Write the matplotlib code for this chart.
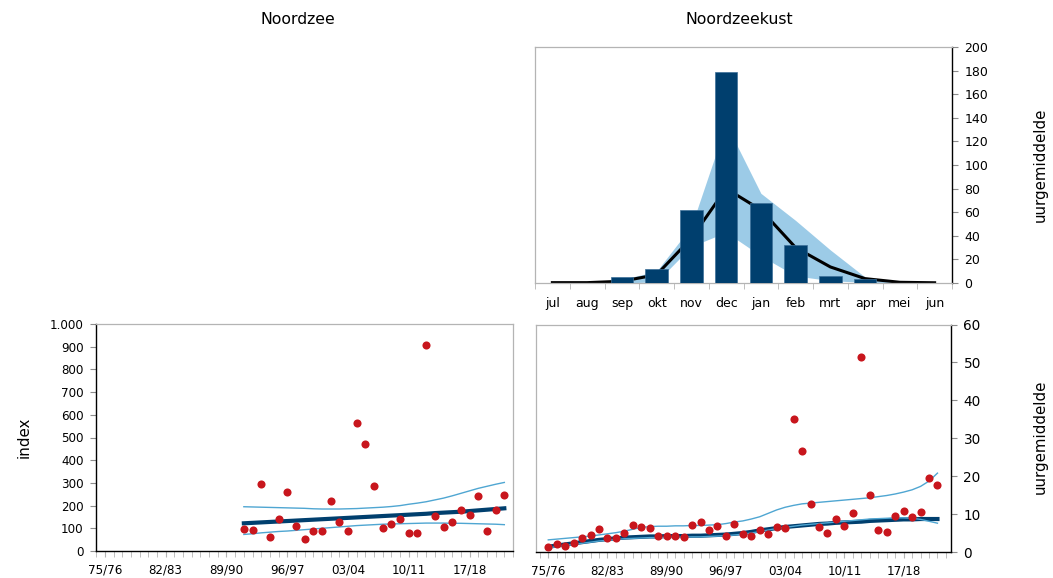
import matplotlib
matplotlib.use('Agg')
import matplotlib.pyplot as plt
import numpy as np

plt.rcParams['font.family'] = ['DejaVu Sans']

# ---------------- data ----------------
months = ['jul', 'aug', 'sep', 'okt', 'nov', 'dec', 'jan', 'feb', 'mrt', 'apr', 'mei', 'jun']
month_bars = [0, 0, 5, 12, 61.5, 178.5, 67.5, 31.8, 6.2, 3.2, 0, 0]
month_mean = [0.3, 0.3, 1.5, 7, 38, 80, 62, 30, 13.6, 3.7, 0.6, 0.2]
month_upper = [0, 0, 3, 10, 48, 135, 76, 53, 28, 5, 0.3, 0]
month_lower = [0, 0, 0, 1, 31, 43, 23, 6, 2, 0.5, 0, 0]

n_seasons = 47  # 75/76 .. 21/22
seasons = [f"{(75 + i) % 100:02d}/{(76 + i) % 100:02d}" for i in range(n_seasons)]
season_ticklabels = ['75/76', '82/83', '89/90', '96/97', '03/04', '10/11', '17/18']

# Noordzee (index), seasons 91/92 .. 21/22
nz_first = '91/92'
nz_index = [97, 91, 294, 60, 141, 261, 110, 51, 88, 88, 222, 126, 87, 565, 471,
            285, 100, 119, 141, 78, 78, 907, 154, 104, 126, 181, 159, 242, 88, 179, 248]
nz_trend = [122, 124, 126, 128, 130, 132, 134, 136, 138, 140, 142, 144, 146, 148, 150,
            152, 154, 156, 158, 160, 162, 164, 167, 169, 171, 173, 176, 179, 182, 185, 188]
nz_upper = [195, 194, 193, 192, 191, 190, 189, 188, 186, 185, 185, 185, 186, 187, 189,
            191, 193, 196, 200, 206, 211, 217, 225, 233, 243, 254, 265, 276, 285, 294, 302]
nz_lower = [73, 76, 80, 83, 86, 88, 91, 94, 97, 100, 103, 106, 109, 112, 114,
            116, 118, 119, 120, 121, 122, 123, 123, 123, 122, 122, 121, 120, 119, 118, 116]

# Noordzeekust (uurgemiddelde), seasons 75/76 .. 21/22
nk_mean = [1.3, 2.1, 1.5, 2.5, 3.7, 4.4, 6.0, 3.8, 3.6, 5.1, 7.2, 6.7, 6.3, 4.1, 4.2,
           4.1, 4.0, 7.0, 7.9, 5.7, 6.9, 4.3, 7.3, 4.7, 4.1, 5.7, 4.8, 6.6, 6.4, 35.1,
           26.7, 12.6, 6.7, 5.1, 8.7, 6.9, 10.4, 51.4, 15.0, 5.9, 5.3, 9.6, 10.7, 9.3,
           10.5, 19.6, 17.6]
nk_trend = [1.4, 1.7, 2.0, 2.3, 2.6, 2.9, 3.2, 3.4, 3.6, 3.8, 3.9, 4.0, 4.1, 4.1, 4.2,
            4.2, 4.2, 4.3, 4.3, 4.4, 4.5, 4.6, 4.8, 5.0, 5.3, 5.7, 6.0, 6.3, 6.6, 6.8,
            7.0, 7.2, 7.4, 7.5, 7.7, 7.8, 7.9, 8.0, 8.2, 8.3, 8.4, 8.5, 8.6, 8.6, 8.7,
            8.7, 8.7]
nk_upper = [3.2, 3.4, 3.6, 3.8, 4.0, 4.2, 4.5, 4.8, 5.1, 5.5, 6.0, 6.5, 6.7, 6.8, 6.8,
            6.9, 6.9, 7.0, 7.0, 7.1, 7.2, 7.5, 7.9, 8.2, 8.7, 9.3, 10.2, 11.1, 11.8, 12.3,
            12.7, 12.9, 13.1, 13.3, 13.5, 13.7, 13.9, 14.1, 14.3, 14.6, 14.9, 15.3, 15.8,
            16.4, 17.3, 18.7, 20.8]
nk_lower = [1.1, 1.4, 1.7, 2.0, 2.3, 2.6, 2.9, 3.1, 3.3, 3.5, 3.6, 3.7, 3.8, 3.8, 3.9,
            3.9, 3.9, 4.0, 4.0, 4.1, 4.2, 4.3, 4.5, 4.7, 5.0, 5.4, 5.8, 6.2, 6.5, 6.8,
            7.1, 7.3, 7.5, 7.7, 7.9, 8.1, 8.3, 8.5, 8.7, 8.8, 8.9, 9.0, 9.0, 8.9, 8.6,
            8.1, 7.6]

idx_ticks = [0, 100, 200, 300, 400, 500, 600, 700, 800, 900, 1000]
idx_ticklabels = ['0', '100', '200', '300', '400', '500', '600', '700', '800', '900', '1.000']

# ---------------- style ----------------
NAVY = '#003F6E'
RED = '#C8161D'
LIGHT = '#4FA6D2'
BAND = '#9CCBE7'
GREY = '#B4B4B4'
TICKC = '#8C8C8C'
TFS = 8.6
LFS = 10.8

W, H = 1053, 578
fig = plt.figure(figsize=(W / 100, H / 100), dpi=100)


def ax_at(l, t, r, b):
    return fig.add_axes([l / W, 1 - b / H, (r - l) / W, (b - t) / H])


def style_spines(ax, dark):
    for s in ['left', 'right', 'top', 'bottom']:
        if s in dark:
            ax.spines[s].set_color('black')
            ax.spines[s].set_linewidth(1.0)
        else:
            ax.spines[s].set_color(GREY)
            ax.spines[s].set_linewidth(0.9)


# ---------------- top right: seasonal pattern ----------------
ax1 = ax_at(535, 47, 952, 283)
xm = np.arange(len(months))
ax1.fill_between(xm, month_lower, month_upper, color=BAND, lw=0, zorder=1)
ax1.plot(xm, month_mean, color='black', lw=2.2, zorder=2, solid_joinstyle='round')
ax1.bar(xm, month_bars, width=0.65, color=NAVY, edgecolor='#3C6F98', linewidth=0.5, zorder=3)
ax1.set_xlim(-0.5, 11.5)
ax1.set_ylim(0, 200)
ax1.yaxis.tick_right()
ax1.set_yticks(range(0, 201, 20))
ax1.set_xticks(xm)
ax1.set_xticklabels(months)
ax1.set_xticks(np.arange(-0.5, 12, 1), minor=True)
ax1.tick_params(axis='x', which='major', length=0, pad=10, labelsize=TFS + 0.4)
ax1.tick_params(axis='x', which='minor', length=4, color=GREY, direction='out')
ax1.tick_params(axis='y', length=4, color=TICKC, pad=5, labelsize=TFS + 0.4)
style_spines(ax1, ['right'])

# ---------------- bottom left: Noordzee index ----------------
ax2 = ax_at(96, 324, 513, 551)
x_nz0 = seasons.index(nz_first)
x_nz = np.arange(x_nz0, x_nz0 + len(nz_index))
ax2.plot(x_nz, nz_upper, color=LIGHT, lw=1.0, zorder=2)
ax2.plot(x_nz, nz_lower, color=LIGHT, lw=1.0, zorder=2)
ax2.plot(x_nz, nz_trend, color=NAVY, lw=3.0, zorder=3)
ax2.scatter(x_nz, nz_index, s=34, color=RED, lw=0, zorder=4)
ax2.set_xlim(-1.03, 47.0)
ax2.set_ylim(0, 1000)
ax2.set_yticks(idx_ticks)
ax2.set_yticklabels(idx_ticklabels)
tick_pos = [seasons.index(s) for s in season_ticklabels]
ax2.set_xticks(tick_pos)
ax2.set_xticklabels(season_ticklabels)
ax2.set_xticks(np.arange(-1, 48), minor=True)
ax2.tick_params(axis='x', which='both', length=4, color=GREY, pad=5, labelsize=TFS)
ax2.tick_params(axis='y', length=4, color=TICKC, pad=5, labelsize=TFS)
style_spines(ax2, ['left', 'bottom'])
ax2.set_ylabel('index', fontsize=LFS, labelpad=13)

# ---------------- bottom right: Noordzeekust ----------------
ax3 = ax_at(535.5, 324.5, 951, 552)
x_nk = np.arange(len(nk_mean))
ax3.plot(x_nk, nk_upper, color=LIGHT, lw=1.0, zorder=2)
ax3.plot(x_nk, nk_trend, color=NAVY, lw=3.0, zorder=3)
ax3.plot(x_nk, nk_lower, color=LIGHT, lw=1.0, zorder=3.5)
ax3.scatter(x_nk, nk_mean, s=34, color=RED, lw=0, zorder=4)
ax3.set_xlim(-1.51, 47.6)
ax3.set_ylim(0, 60)
ax3.yaxis.tick_right()
ax3.set_yticks(range(0, 61, 10))
ax3.set_xticks(tick_pos)
ax3.set_xticklabels(season_ticklabels)
ax3.set_xticks(np.arange(-1, 48), minor=True)
ax3.tick_params(axis='x', which='both', length=4, color=GREY, pad=5, labelsize=TFS)
ax3.tick_params(axis='y', length=4, color=TICKC, pad=5, labelsize=TFS + 1.2)
style_spines(ax3, ['right', 'bottom'])

# ---------------- titles and side labels ----------------
fig.text(298 / W, 1 - 19 / H, 'Noordzee', ha='center', va='center', fontsize=11.3)
fig.text(739 / W, 1 - 19 / H, 'Noordzeekust', ha='center', va='center', fontsize=11.3)
fig.text(1040 / W, 1 - 165 / H, 'uurgemiddelde', ha='center', va='center',
         rotation=90, fontsize=LFS)
fig.text(1040 / W, 1 - 437 / H, 'uurgemiddelde', ha='center', va='center',
         rotation=90, fontsize=LFS)

fig.savefig('out.png', dpi=100)
